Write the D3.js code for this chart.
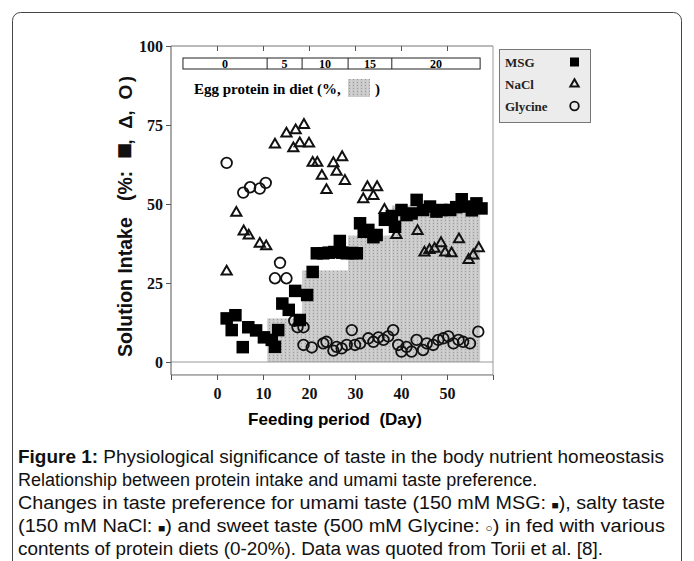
<!DOCTYPE html>
<html>
<head>
<meta charset="utf-8">
<script src="https://cdn.jsdelivr.net/npm/d3@7/dist/d3.min.js"></script>
<style>
  body { margin: 0; background: #fff; }
  text { white-space: pre; }
</style>
</head>
<body>
<script>
// readings: [day, solution intake %]
const msgData = [[2.1,13.8],[3.2,10.1],[4.0,14.8],[5.6,4.7],[6.8,11.0],[8.5,10.0],[10.2,7.8],[11.9,7.0],[12.6,4.8],[13.3,10.1],
  [14.2,18.5],[15.6,16.5],[17.0,22.5],[18.0,13.3],[19.6,21.2],[20.8,28.5],
  [21.7,34.4],[23.1,34.4],[24.3,34.6],[25.5,34.8],[26.7,38.3],[27.2,34.6],[28.2,34.4],[29.4,34.5],[30.4,34.4],
  [31.1,43.9],[31.9,41.2],[32.9,41.8],[34.0,39.5],[34.7,40.2],[36.5,45.0],[38.0,46.2],[38.7,42.8],
  [40.1,48.1],[41.2,46.5],[42.3,47.0],[43.4,51.3],[44.8,48.1],[46.3,49.2],[47.7,47.6],[48.8,48.1],[50.7,48.1],
  [52.0,49.0],[53.2,51.5],[54.2,49.2],[55.4,48.0],[56.4,50.2],[57.5,48.6]]

const naclData = [[2.1,28.6],[4.2,47.2],[5.8,41.3],[6.9,40.0],[9.3,37.4],[10.7,36.6],
  [12.6,68.8],[15.1,72.3],[17.1,73.3],[18.9,75.0],[16.6,67.6],[18.0,69.2],[20.0,69.1],
  [20.8,63.0],[21.8,63.0],[22.8,58.9],[23.8,54.4],[25.3,62.9],[26.0,60.2],[27.2,64.8],[27.8,57.3],
  [32.7,55.3],[31.8,51.5],[34.0,52.5],[34.8,55.3],[36.4,48.1],[39.0,40.2],[43.6,41.4],
  [45.1,34.6],[46.2,35.4],[47.3,35.8],[48.7,37.6],[49.6,34.6],[51.0,34.4],[52.6,38.8],[54.7,32.3],[55.7,33.7],[56.9,36.0]]

const glycineData = [[2.1,63.0],[5.7,53.6],[7.2,55.3],[9.3,54.9],[10.6,56.7],
  [12.6,26.5],[13.7,31.4],[15.1,26.5],[16.8,13.0],[17.5,11.0],[18.8,11.0],
  [18.8,5.4],[20.6,4.6],[23.1,5.9],[23.8,6.4],[25.3,3.6],[26.0,4.8],[27.1,4.3],[28.2,5.4],[29.3,10.1],
  [30.0,5.4],[31.1,5.9],[32.9,7.5],[34.0,6.4],[35.1,7.8],[36.2,7.0],[37.2,8.1],[38.3,10.1],[39.4,5.4],
  [40.1,3.3],[41.2,4.8],[42.3,3.3],[43.4,7.0],[44.8,3.8],[45.6,5.9],[47.0,5.4],[48.1,7.0],[49.2,7.5],
  [50.3,8.1],[51.4,5.9],[52.5,7.0],[53.5,6.4],[55.0,5.9],[56.8,9.6]]

// egg protein content of the diet, by feeding period
const dietLabels = ["0", "5", "10", "15", "20"]
const dietStart = [-7.4, 10.9, 18.5, 28.5, 38.0]
const dietEnd = 57.2
const proteinIntake = [0, 13.8, 29, 40, 49.5]

const xTicks = [-10, 0, 10, 20, 30, 40, 50, 60]
const xLabels = [0, 10, 20, 30, 40, 50]
const yTicks = [0, 25, 50, 75, 100]
const legendNames = ["MSG", "NaCl", "Glycine"]

const width = 694, height = 561
const serif = "'Liberation Serif', 'Times New Roman', serif"
const sans = "'Liberation Sans', Arial, sans-serif"

const svg = d3.select("body").append("svg")
    .attr("width", width)
    .attr("height", height)

// stipple for the protein intake area
const defs = svg.append("defs")
const pat = defs.append("pattern")
    .attr("id", "stipple")
    .attr("patternUnits", "userSpaceOnUse")
    .attr("width", 4).attr("height", 3)
pat.append("rect").attr("width", 4).attr("height", 3).attr("fill", "#c9c9c9")
pat.append("rect").attr("x", 1).attr("y", 1).attr("width", 1).attr("height", 1).attr("fill", "#9a9a9a")
pat.append("rect").attr("x", 3).attr("width", 1).attr("height", 3).attr("fill", "#d2d2d2")

// outer rounded frame
svg.append("rect")
    .attr("x", 12.5).attr("y", 12.5)
    .attr("width", 669).attr("height", 600)
    .attr("rx", 8)
    .attr("fill", "none")
    .attr("stroke", "#444")

const x = d3.scaleLinear().domain([-10, 60]).range([171, 493])
const y = d3.scaleLinear().domain([0, 100]).range([362, 46])
const yBottom = y(-4.1)

// protein intake steps
svg.append("g").selectAll("rect")
  .data(dietStart.map((s, i) => ({ s: s, e: i < dietStart.length - 1 ? dietStart[i + 1] : dietEnd, v: proteinIntake[i] })))
  .join("rect")
    .attr("x", d => x(d.s))
    .attr("y", d => y(d.v))
    .attr("width", d => x(d.e) - x(d.s))
    .attr("height", d => y(0) - y(d.v))
    .attr("fill", "url(#stipple)")

// frame
const frame = svg.append("g").attr("fill", "none")
frame.append("line").attr("x1", x(-10)).attr("x2", x(60)).attr("y1", y(100)).attr("y2", y(100)).attr("stroke", "#777")
frame.append("line").attr("x1", x(60)).attr("x2", x(60)).attr("y1", y(100)).attr("y2", yBottom).attr("stroke", "#999")
frame.append("line").attr("x1", x(-10)).attr("x2", x(60)).attr("y1", yBottom).attr("y2", yBottom).attr("stroke", "#666")
frame.append("line").attr("x1", x(-10)).attr("x2", x(60)).attr("y1", y(0)).attr("y2", y(0)).attr("stroke", "#999")

// axes
const yAxis = svg.append("g")
    .attr("transform", `translate(${x(-10)},0)`)
    .call(d3.axisLeft(y).tickValues(yTicks).tickSize(5).tickPadding(3))
yAxis.select(".domain").attr("d", `M0,${y(100)}V${yBottom}`).attr("stroke", "#555")

const xAxis = svg.append("g")
    .attr("transform", `translate(0,${yBottom})`)
    .call(d3.axisBottom(x).tickValues(xTicks).tickSize(5).tickPadding(8)
      .tickFormat(d => xLabels.includes(d) ? d : ""))
xAxis.select(".domain").remove()

const topAxis = svg.append("g")
    .attr("transform", `translate(0,${y(100)})`)
    .call(d3.axisTop(x).tickValues(xLabels).tickSize(-5).tickFormat(""))
topAxis.select(".domain").remove()

svg.selectAll(".tick line").attr("stroke", "#555")
svg.selectAll(".tick text")
    .attr("font-family", serif)
    .attr("font-weight", "bold")
    .attr("font-size", 16)
    .attr("fill", "#111")

// axis titles
svg.append("text")
    .attr("x", 335).attr("y", 425)
    .attr("text-anchor", "middle")
    .attr("font-family", sans).attr("font-weight", "bold").attr("font-size", 17)
    .text("Feeding period  (Day)")

// y title is rotated, pieces placed along the axis (screen y)
const yTitle = svg.append("g")
    .attr("font-family", sans).attr("font-weight", "bold").attr("fill", "#111")
const titleParts = [
  { t: "Solution Intake", at: 357, anchor: "start", fs: 19.5, dy: 0 },
  { t: "(%:", at: 201, anchor: "start", fs: 19.5, dy: 0 },
  { t: "■", at: 151, anchor: "middle", fs: 27, dy: 1 },
  { t: ",", at: 142, anchor: "middle", fs: 18, dy: 0 },
  { t: "Δ", at: 122, anchor: "middle", fs: 19, dy: 0 },
  { t: ",", at: 113, anchor: "middle", fs: 18, dy: 0 },
  { t: "O", at: 92, anchor: "middle", fs: 19, dy: 0 },
  { t: ")", at: 79, anchor: "middle", fs: 19, dy: 0 }
]
yTitle.selectAll("text")
  .data(titleParts)
  .join("text")
    .attr("transform", d => `translate(${132 + d.dy},${d.at}) rotate(-90)`)
    .attr("text-anchor", d => d.anchor)
    .attr("font-size", d => d.fs)
    .text(d => d.t)

// egg protein bar
const bar = svg.append("g")
const barY = 58, barH = 11
bar.append("rect")
    .attr("x", x(dietStart[0])).attr("y", barY)
    .attr("width", x(dietEnd) - x(dietStart[0])).attr("height", barH)
    .attr("fill", "#fff").attr("stroke", "#222")
bar.selectAll("line")
  .data(dietStart.slice(1))
  .join("line")
    .attr("x1", d => x(d)).attr("x2", d => x(d))
    .attr("y1", barY).attr("y2", barY + barH)
    .attr("stroke", "#222")
bar.selectAll("text")
  .data(dietLabels)
  .join("text")
    .attr("x", (d, i) => (x(dietStart[i]) + x(i < dietStart.length - 1 ? dietStart[i + 1] : dietEnd)) / 2)
    .attr("y", barY + 9.5)
    .attr("text-anchor", "middle")
    .attr("font-family", serif).attr("font-weight", "bold").attr("font-size", 12)
    .text(d => d)

svg.append("text")
    .attr("x", 194).attr("y", 94)
    .attr("font-family", serif).attr("font-weight", "bold").attr("font-size", 15)
    .text("Egg protein in diet (%,")
svg.append("rect")
    .attr("x", 348).attr("y", 79).attr("width", 22).attr("height", 18)
    .attr("fill", "url(#stipple)")
svg.append("text")
    .attr("x", 375).attr("y", 94)
    .attr("font-family", serif).attr("font-weight", "bold").attr("font-size", 15)
    .text(")")

// points: circles, then triangles, squares on top
svg.append("g").selectAll("circle")
  .data(glycineData)
  .join("circle")
    .attr("cx", d => x(d[0])).attr("cy", d => y(d[1]))
    .attr("r", 5.3)
    .attr("fill", "none").attr("stroke", "#111").attr("stroke-width", 1.8)

const tri = d3.symbol(d3.symbolTriangle, 45)
svg.append("g").selectAll("path")
  .data(naclData)
  .join("path")
    .attr("d", tri)
    .attr("transform", d => `translate(${x(d[0])},${y(d[1])})`)
    .attr("fill", "none").attr("stroke", "#111").attr("stroke-width", 2)

const sq = 12.5
svg.append("g").selectAll("rect")
  .data(msgData)
  .join("rect")
    .attr("x", d => x(d[0]) - sq / 2).attr("y", d => y(d[1]) - sq / 2)
    .attr("width", sq).attr("height", sq)
    .attr("fill", "#000")

// legend
const legend = svg.append("g")
legend.append("rect")
    .attr("x", 499.5).attr("y", 49.5).attr("width", 91).attr("height", 73)
    .attr("fill", "#ececec").attr("stroke", "#777")
const rowY = d3.scalePoint().domain(legendNames).range([62, 106])
legend.selectAll("text")
  .data(legendNames)
  .join("text")
    .attr("x", 505).attr("y", d => rowY(d) + 5)
    .attr("font-family", serif).attr("font-weight", "bold").attr("font-size", 13)
    .attr("fill", "#222")
    .text(d => d)
legend.append("rect")
    .attr("x", 570).attr("y", rowY("MSG") - 4.5).attr("width", 9).attr("height", 9).attr("fill", "#000")
legend.append("path")
    .attr("d", d3.symbol(d3.symbolTriangle, 30))
    .attr("transform", `translate(574.5,${rowY("NaCl")})`)
    .attr("fill", "none").attr("stroke", "#111").attr("stroke-width", 2)
legend.append("circle")
    .attr("cx", 574.5).attr("cy", rowY("Glycine")).attr("r", 4.3)
    .attr("fill", "none").attr("stroke", "#111").attr("stroke-width", 1.8)

// caption; the lines that reach the right margin are justified
const captionLines = [
  [["Figure 1:", "b"], [" Physiological significance of taste in the body nutrient homeostasis"]],
  [["Relationship between protein intake and umami taste preference."]],
  [["Changes in taste preference for umami taste (150 mM MSG: "], ["■", "s"], ["), salty taste"]],
  [["(150 mM NaCl: "], ["■", "s"], [") and sweet taste (500 mM Glycine: "], ["○", "s"], [") in fed with various"]],
  [["contents of protein diets (0-20%). Data was quoted from Torii et al. [8]."]]
]
const lineWidth = [646, null, 647, 647, 585]
const cap = svg.append("g")
    .attr("font-family", sans).attr("font-size", 18).attr("fill", "#111")
captionLines.forEach((parts, i) => {
  const t = cap.append("text").attr("x", 18).attr("y", 463 + i * 23)
  parts.forEach(p => {
    const ts = t.append("tspan").text(p[0])
    if (p[1] === "b") ts.attr("font-weight", "bold")
    if (p[1] === "s") ts.attr("font-size", 11)
  })
  if (lineWidth[i]) t.attr("textLength", lineWidth[i]).attr("lengthAdjust", "spacingAndGlyphs")
})
</script>
</body>
</html>
